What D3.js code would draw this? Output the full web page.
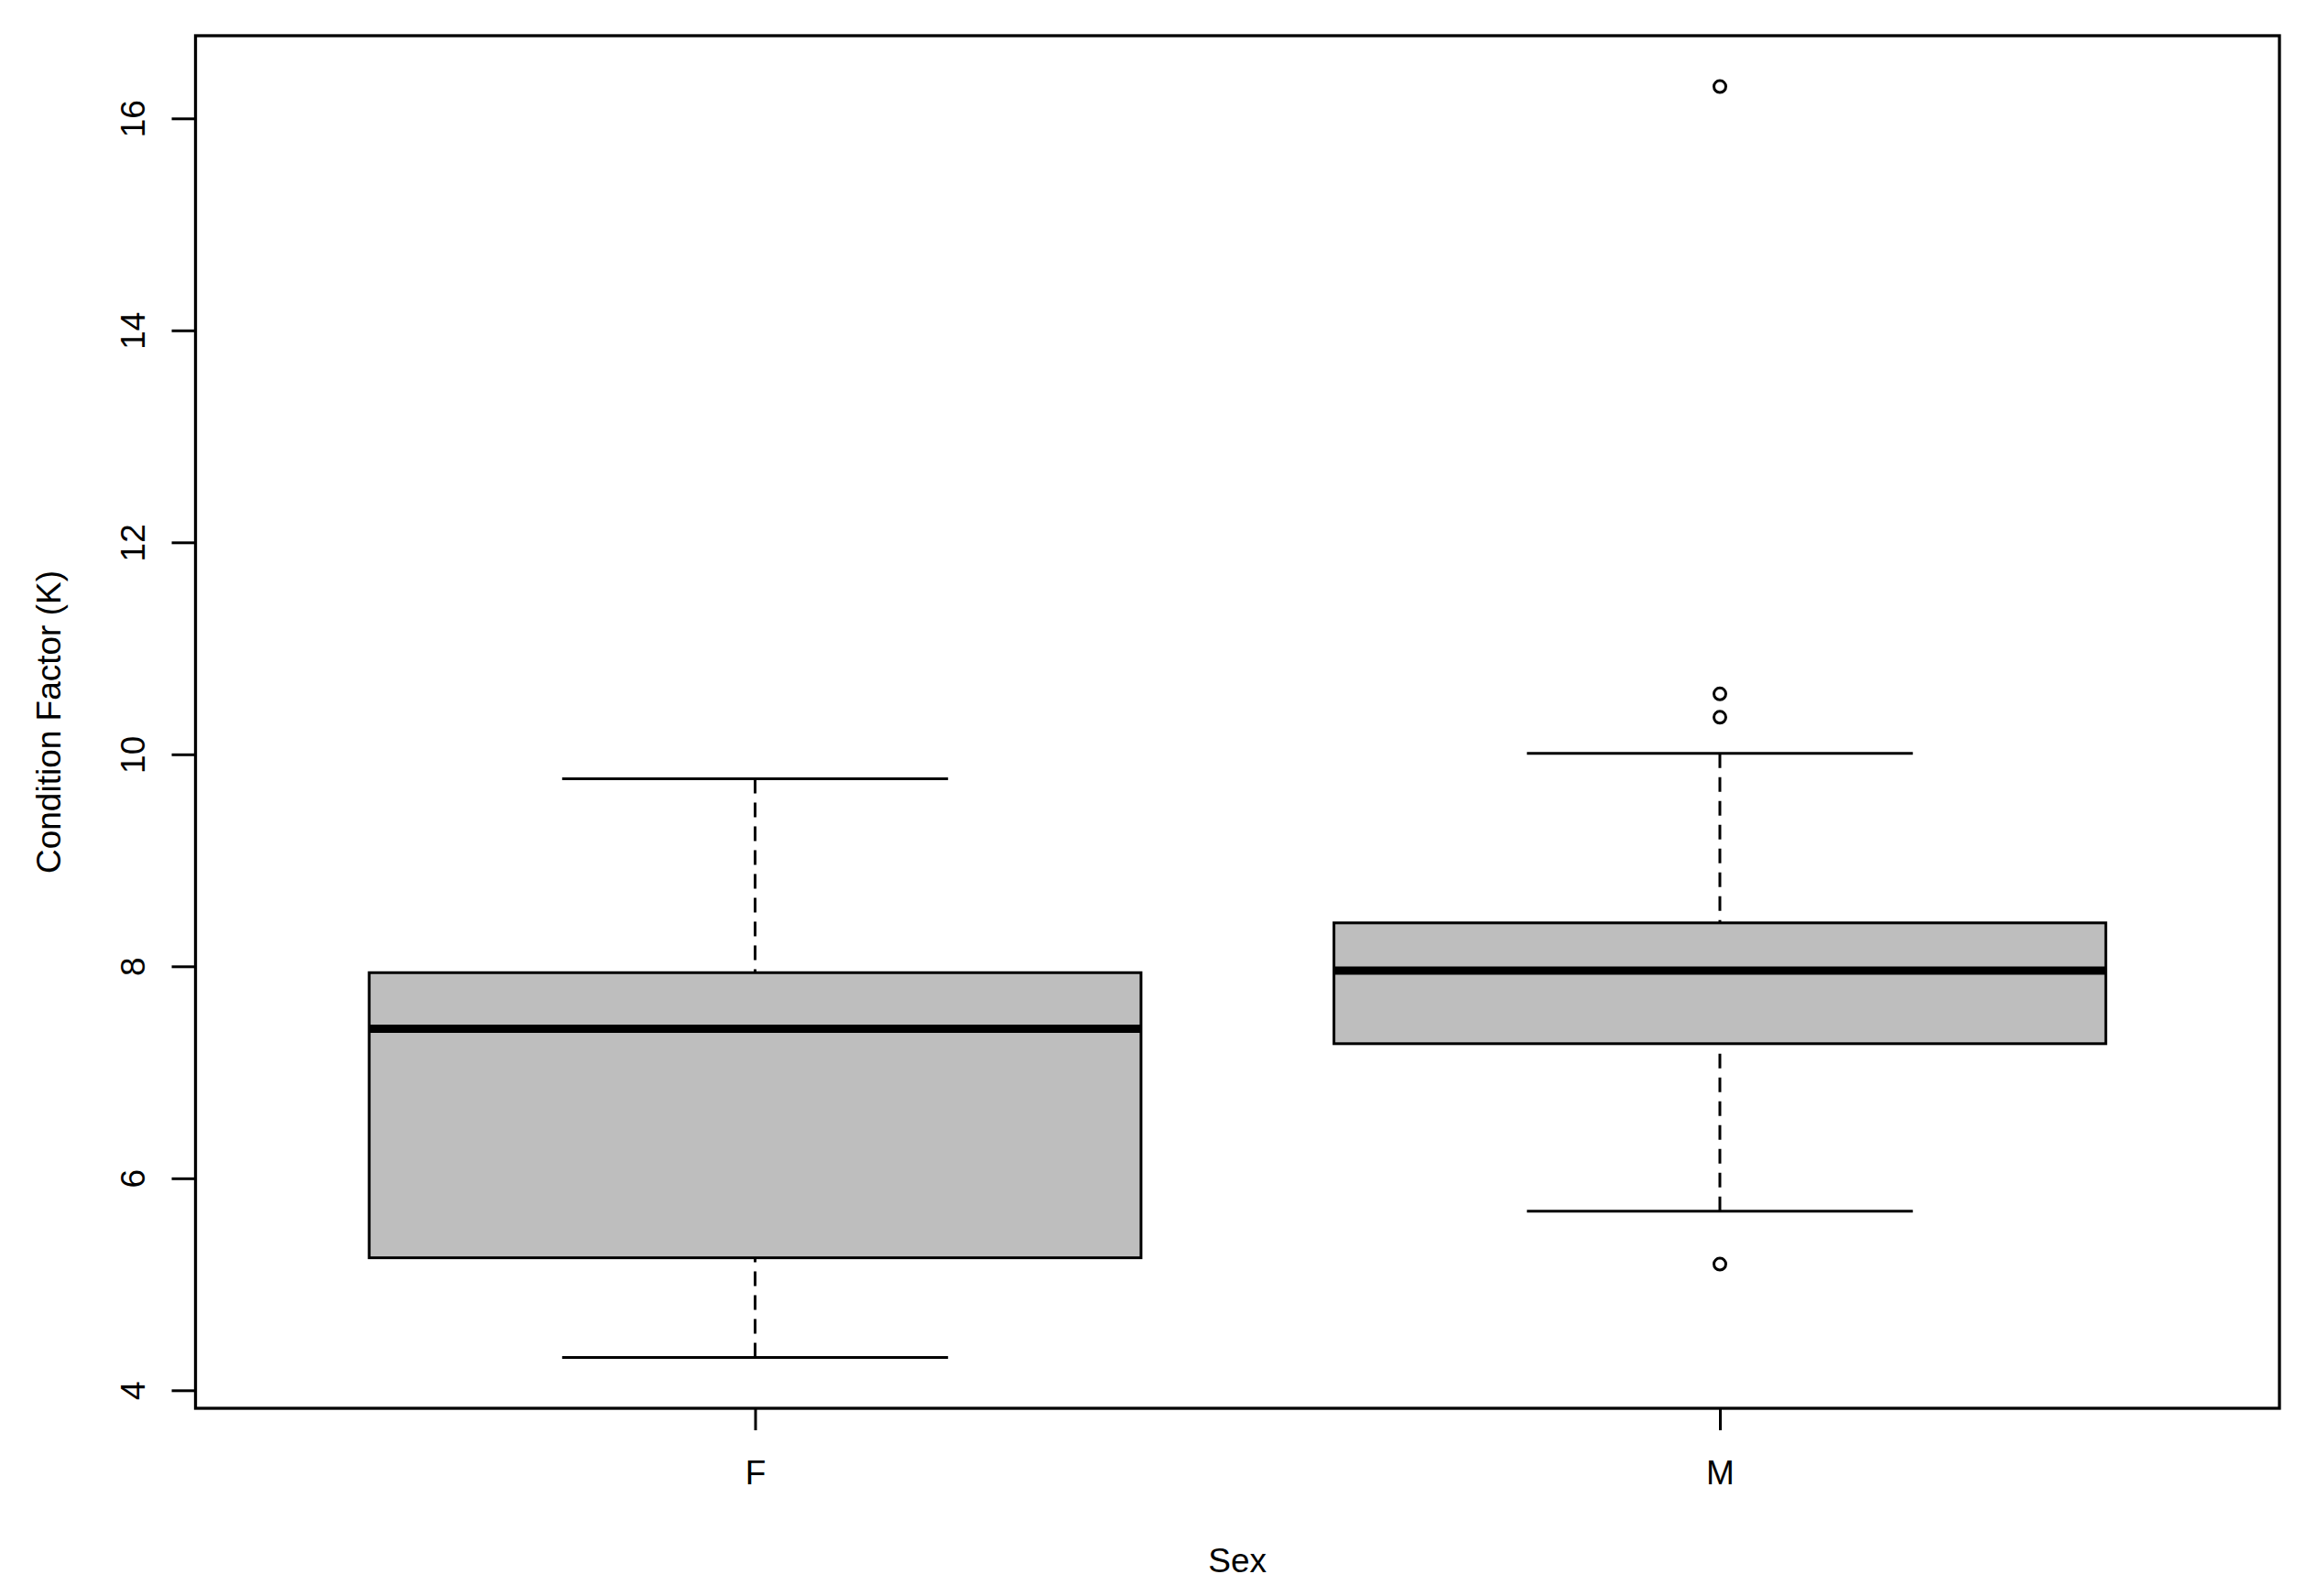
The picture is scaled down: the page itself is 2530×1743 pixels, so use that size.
<!DOCTYPE html>
<html>
<head>
<meta charset="utf-8">
<script src="https://cdn.jsdelivr.net/npm/d3@7"></script>
<style>
  html, body { margin: 0; padding: 0; background: #fff; }
  svg { display: block; }
  text { font-family: "Liberation Sans", Arial, sans-serif; fill: #000; }
</style>
</head>
<body>
<svg id="chart" width="2530" height="1743"></svg>
<script>
// ---- data ----
const categories   = ["F", "M"];
const whiskerLow   = [4.31, 5.69];
const q1           = [5.25, 7.27];
const median       = [7.41, 7.96];
const q3           = [7.94, 8.41];
const whiskerHigh  = [9.77, 10.01];
const outliers     = [[], [16.30, 10.57, 10.35, 5.19]];
const yTicks       = [4, 6, 8, 10, 12, 14, 16];
const xTitle = "Sex";
const yTitle = "Condition Factor (K)";

// ---- layout ----
const W = 2530, H = 1743;
const plot = { left: 213.5, right: 2489, top: 39, bottom: 1538 };
const fontSize = 37;

const svg = d3.select("#chart");
svg.append("rect").attr("width", W).attr("height", H).attr("fill", "#fff");

// R style: positions 1..n, xlim 0.5..n+0.5 extended by 4%
const x = d3.scaleLinear().domain([0.42, 2.58]).range([plot.left, plot.right]);
const y = d3.scaleLinear().domain([3.83, 16.78]).range([plot.bottom, plot.top]);

const boxHalf = 0.4, stapleHalf = 0.2;

const data = categories.map((c, i) => ({
  cat: c, pos: i + 1,
  lo: whiskerLow[i], q1: q1[i], med: median[i], q3: q3[i], hi: whiskerHigh[i],
  out: outliers[i]
}));

const g = svg.append("g");

// whiskers (dashed), drawn from whisker end to box
g.selectAll(".wlo").data(data).enter().append("line")
  .attr("x1", d => x(d.pos)).attr("x2", d => x(d.pos))
  .attr("y1", d => y(d.lo)).attr("y2", d => y(d.q1))
  .attr("stroke", "#000").attr("stroke-width", 3).attr("stroke-dasharray", "16,10");
g.selectAll(".whi").data(data).enter().append("line")
  .attr("x1", d => x(d.pos)).attr("x2", d => x(d.pos))
  .attr("y1", d => y(d.hi)).attr("y2", d => y(d.q3))
  .attr("stroke", "#000").attr("stroke-width", 3).attr("stroke-dasharray", "16,10");

// staples
["lo", "hi"].forEach(k => {
  g.selectAll(".st" + k).data(data).enter().append("line")
    .attr("x1", d => x(d.pos - stapleHalf)).attr("x2", d => x(d.pos + stapleHalf))
    .attr("y1", d => y(d[k])).attr("y2", d => y(d[k]))
    .attr("stroke", "#000").attr("stroke-width", 3);
});

// boxes
g.selectAll(".box").data(data).enter().append("rect")
  .attr("x", d => x(d.pos - boxHalf))
  .attr("width", d => x(d.pos + boxHalf) - x(d.pos - boxHalf))
  .attr("y", d => y(d.q3))
  .attr("height", d => y(d.q1) - y(d.q3))
  .attr("fill", "#bebebe").attr("stroke", "#000").attr("stroke-width", 3);

// medians
g.selectAll(".med").data(data).enter().append("line")
  .attr("x1", d => x(d.pos - boxHalf)).attr("x2", d => x(d.pos + boxHalf))
  .attr("y1", d => y(d.med)).attr("y2", d => y(d.med))
  .attr("stroke", "#000").attr("stroke-width", 9);

// outliers
const outPts = [];
data.forEach(d => d.out.forEach(v => outPts.push({ pos: d.pos, v })));
g.selectAll(".out").data(outPts).enter().append("circle")
  .attr("cx", d => x(d.pos)).attr("cy", d => y(d.v)).attr("r", 6.5)
  .attr("fill", "none").attr("stroke", "#000").attr("stroke-width", 3);

// plot frame
svg.append("rect")
  .attr("x", plot.left).attr("y", plot.top)
  .attr("width", plot.right - plot.left).attr("height", plot.bottom - plot.top)
  .attr("fill", "none").attr("stroke", "#000").attr("stroke-width", 3.3);

// y axis
const yAxis = svg.append("g").attr("transform", `translate(${plot.left},0)`)
  .call(d3.axisLeft(y).tickValues(yTicks).tickSize(26).tickFormat(d3.format("d")));
yAxis.select(".domain").remove();
yAxis.selectAll(".tick line").attr("stroke", "#000").attr("stroke-width", 3);
yAxis.selectAll(".tick text")
  .attr("font-size", fontSize).attr("font-family", "Liberation Sans, Arial, sans-serif")
  .attr("fill", "#000")
  .attr("x", null).attr("dy", null)
  .attr("text-anchor", "middle")
  .attr("transform", `translate(${158 - plot.left},0) rotate(-90)`)
  .attr("y", 0);

// x axis
const xAxis = svg.append("g").attr("transform", `translate(0,${plot.bottom})`)
  .call(d3.axisBottom(x).tickValues(data.map(d => d.pos)).tickSize(24)
    .tickFormat((v, i) => categories[i]));
xAxis.select(".domain").remove();
xAxis.selectAll(".tick line").attr("stroke", "#000").attr("stroke-width", 3);
xAxis.selectAll(".tick text")
  .attr("font-size", fontSize).attr("font-family", "Liberation Sans, Arial, sans-serif")
  .attr("fill", "#000")
  .attr("dy", null).attr("y", 1621 - plot.bottom);

// titles
svg.append("text")
  .attr("x", (plot.left + plot.right) / 2).attr("y", 1717)
  .attr("text-anchor", "middle").attr("font-size", fontSize)
  .text(xTitle);
svg.append("text")
  .attr("transform", `translate(66,${(plot.top + plot.bottom) / 2}) rotate(-90)`)
  .attr("text-anchor", "middle").attr("font-size", fontSize)
  .text(yTitle);
</script>
</body>
</html>
